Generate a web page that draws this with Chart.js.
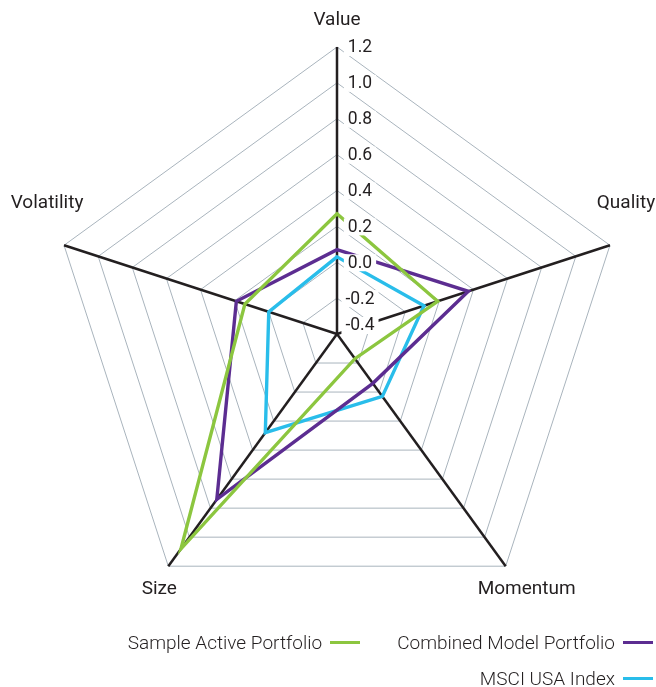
<!DOCTYPE html>
<html>
<head>
<meta charset="utf-8">
<script src="https://cdn.jsdelivr.net/npm/chart.js@4/dist/chart.umd.min.js"></script>
<style>
  body { margin: 0; background: #fff; }
  #wrap { position: relative; width: 656px; height: 687px; }
  #legend {
    position: absolute; right: 3px; top: 624px;
    font: 300 19px Roboto, sans-serif; color: #231f20;
  }
  .row { display: flex; justify-content: flex-end; height: 36px; align-items: center; }
  .item { display: flex; align-items: center; margin-left: 37px; }
  .swatch { width: 30px; height: 3px; margin-left: 8px; }
</style>
</head>
<body>
<div id="wrap">
  <canvas id="myChart" width="656" height="687"></canvas>
  <div id="legend"></div>
</div>
<script>
const categories = ["Value", "Quality", "Momentum", "Size", "Volatility"];
const sampleActive = [0.27, 0.19, -0.23, 1.08, 0.14];
const combinedModel = [0.07, 0.37, -0.06, 0.74, 0.19];
const msciUsa = [0.03, 0.11, 0.03, 0.28, 0.0];
const tickValues = [-0.4, -0.2, 0.0, 0.2, 0.4, 0.6, 0.8, 1.0, 1.2];
const tickLabels = ["-0.4", "-0.2", "0.0", "0.2", "0.4", "0.6", "0.8", "1.0", "1.2"];

const seriesNames = ["Sample Active Portfolio", "Combined Model Portfolio", "MSCI USA Index"];
const seriesColors = ["#8cc63f", "#5c2d91", "#29bdea"];

// offsets of the category labels from the outer end of each spoke
const labelOffsets = [[0, -27], [16, -42], [21, 23], [-9, 23], [-17, -42]];

const tickLabelPlugin = {
  id: "tickLabels",
  afterDatasetsDraw(chart) {
    const s = chart.scales.r;
    const c = chart.ctx;
    c.save();
    c.font = "17.5px Roboto";
    c.textAlign = "center";
    c.textBaseline = "middle";
    tickValues.forEach((v, i) => {
      const x = s.xCenter + 23;
      let y = s.yCenter - s.getDistanceFromCenterForValue(v);
      if (i === 0) y -= 9; // keep the lowest label off the centre
      const w = c.measureText(tickLabels[i]).width;
      c.fillStyle = "#fff";
      c.fillRect(x - w / 2 - 4, y - 8, w + 8, 17);
      c.fillStyle = "#231f20";
      c.fillText(tickLabels[i], x, y + 1);
    });
    c.restore();
  },
};

const pointLabelPlugin = {
  id: "pointLabelsCustom",
  afterDraw(chart) {
    const s = chart.scales.r;
    const c = chart.ctx;
    c.save();
    c.font = "19px Roboto";
    c.fillStyle = "#231f20";
    c.textAlign = "center";
    c.textBaseline = "middle";
    categories.forEach((name, i) => {
      const p = s.getPointPosition(i, s.drawingArea);
      c.fillText(name, p.x + labelOffsets[i][0], p.y + labelOffsets[i][1]);
    });
    c.restore();
  },
};

const ctx = document.getElementById("myChart");
new Chart(ctx, {
  type: "radar",
  data: {
    labels: categories,
    datasets: [sampleActive, combinedModel, msciUsa].map((d, i) => ({
      label: seriesNames[i],
      data: d,
      borderColor: seriesColors[i],
      backgroundColor: "transparent",
      borderWidth: 3.4,
      pointRadius: 0,
      pointHoverRadius: 0,
      fill: false,
    })),
  },
  options: {
    responsive: false,
    devicePixelRatio: 1,
    animation: false,
    layout: {
      padding: { left: 50, top: 47, right: 32, bottom: 66 },
    },
    plugins: {
      legend: { display: false },
      tooltip: { enabled: false },
    },
    scales: {
      r: {
        min: -0.4,
        max: 1.2,
        ticks: {
          stepSize: 0.2,
          display: false,
        },
        pointLabels: { display: false },
        grid: { color: "#a9b4bd", lineWidth: 1 },
        angleLines: { color: "#231f20", lineWidth: 2.5 },
      },
    },
  },
  plugins: [tickLabelPlugin, pointLabelPlugin],
});

// legend: text first, line marker after it
const legend = document.getElementById("legend");
const rows = [[0, 1], [2]];
rows.forEach((r) => {
  const row = document.createElement("div");
  row.className = "row";
  r.forEach((i) => {
    const item = document.createElement("div");
    item.className = "item";
    const txt = document.createElement("span");
    txt.textContent = seriesNames[i];
    const sw = document.createElement("span");
    sw.className = "swatch";
    sw.style.background = seriesColors[i];
    item.appendChild(txt);
    item.appendChild(sw);
    row.appendChild(item);
  });
  legend.appendChild(row);
});
</script>
</body>
</html>
